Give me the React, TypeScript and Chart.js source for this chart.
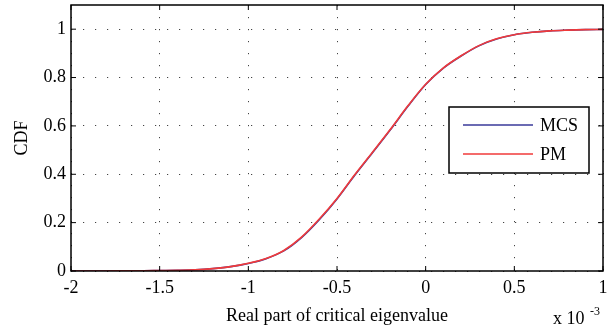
import React, { useEffect, useRef } from "react";
import { Chart, registerables } from "chart.js";

Chart.register(...registerables);

// Real part of critical eigenvalue (x 10^-3)
const xValues = [
  -2.0, -1.9, -1.8, -1.7, -1.6, -1.5, -1.4, -1.3, -1.2, -1.1, -1.0, -0.9, -0.8, -0.7, -0.6,
  -0.5, -0.4, -0.3, -0.2, -0.1, 0.0, 0.1, 0.2, 0.3, 0.4, 0.5, 0.6, 0.7, 0.8, 0.9, 1.0,
];
const mcsCdf = [
  0.0, 0.0, 0.0, 0.001, 0.001, 0.002, 0.003, 0.005, 0.01, 0.018, 0.031, 0.051, 0.083, 0.138, 0.212,
  0.298, 0.396, 0.489, 0.583, 0.681, 0.771, 0.839, 0.889, 0.931, 0.959, 0.977, 0.987, 0.993, 0.996, 0.998, 0.999,
];
const pmCdf = [
  0.0, 0.0, 0.0, 0.001, 0.001, 0.002, 0.003, 0.005, 0.01, 0.018, 0.032, 0.052, 0.085, 0.14, 0.215,
  0.3, 0.398, 0.491, 0.585, 0.683, 0.772, 0.84, 0.89, 0.932, 0.96, 0.977, 0.987, 0.993, 0.996, 0.998, 0.999,
];
const xTicks = [-2, -1.5, -1, -0.5, 0, 0.5, 1];
const yTicks = [0, 0.2, 0.4, 0.6, 0.8, 1];
const seriesNames = ["MCS", "PM"];
const seriesColors = ["#3a3a9a", "#f03a3a"];

const FONT = "'Liberation Serif', 'Times New Roman', serif";
const FS = 18;

const framePlugin = {
  id: "frame",
  afterDraw(chart: any) {
    const { ctx, chartArea: a, scales } = chart;
    ctx.save();
    ctx.strokeStyle = "#000";
    ctx.lineWidth = 1.5;
    ctx.strokeRect(a.left, a.top, a.right - a.left, a.bottom - a.top);
    ctx.lineWidth = 1;
    const tl = 5;
    xTicks.forEach((v) => {
      const px = scales.x.getPixelForValue(v);
      ctx.beginPath();
      ctx.moveTo(px, a.bottom);
      ctx.lineTo(px, a.bottom - tl);
      ctx.moveTo(px, a.top);
      ctx.lineTo(px, a.top + tl);
      ctx.stroke();
    });
    yTicks.forEach((v) => {
      const py = scales.y.getPixelForValue(v);
      ctx.beginPath();
      ctx.moveTo(a.left, py);
      ctx.lineTo(a.left + tl, py);
      ctx.moveTo(a.right, py);
      ctx.lineTo(a.right - tl, py);
      ctx.stroke();
    });
    // legend
    const lx = 449, ly = 107, lw = 140, lh = 66;
    ctx.fillStyle = "#fff";
    ctx.fillRect(lx, ly, lw, lh);
    ctx.strokeStyle = "#000";
    ctx.lineWidth = 1.5;
    ctx.strokeRect(lx, ly, lw, lh);
    ctx.font = `${FS}px ${FONT}`;
    ctx.textBaseline = "middle";
    ctx.textAlign = "left";
    chart.data.datasets.forEach((ds: any, i: number) => {
      const y = ly + 18 + i * 29;
      ctx.strokeStyle = ds.borderColor;
      ctx.lineWidth = 1.5;
      ctx.beginPath();
      ctx.moveTo(463, y);
      ctx.lineTo(533, y);
      ctx.stroke();
      ctx.fillStyle = "#000";
      ctx.fillText(ds.label, 540, y + 1);
    });
    // exponent label
    ctx.fillStyle = "#000";
    ctx.textBaseline = "alphabetic";
    ctx.font = `${FS}px ${FONT}`;
    ctx.fillText("x 10", 553, 324);
    ctx.font = `12px ${FONT}`;
    ctx.fillText("-3", 590, 315);
    ctx.restore();
  },
};

export default function App() {
  const ref = useRef<HTMLCanvasElement | null>(null);
  useEffect(() => {
    if (!ref.current) return;
    const chart = new Chart(ref.current, {
      type: "line",
      data: {
        datasets: [mcsCdf, pmCdf].map((arr, i) => ({
          label: seriesNames[i],
          data: xValues.map((x, j) => ({ x, y: arr[j] })),
          borderColor: seriesColors[i],
          borderWidth: 1.6,
          pointRadius: 0,
          cubicInterpolationMode: "monotone" as const,
          fill: false,
          order: i === 1 ? 0 : 1,
        })),
      },
      options: {
        animation: false,
        responsive: false,
        layout: { padding: { left: 0, top: 5, right: 7, bottom: 0 } },
        plugins: { legend: { display: false }, tooltip: { enabled: false } },
        scales: {
          x: {
            type: "linear",
            min: -2,
            max: 1,
            afterBuildTicks: (s: any) => {
              s.ticks = xTicks.map((v) => ({ value: v }));
            },
            afterFit: (s: any) => {
              s.height = 59;
              s.paddingLeft = 0;
              s.paddingRight = 0;
            },
            ticks: {
              font: { family: FONT, size: FS },
              color: "#000",
              padding: 6,
              maxRotation: 0,
              callback: (v: any) => String(v),
            },
            grid: { color: "#444", lineWidth: 1, drawTicks: false },
            border: { display: false, dash: [1.2, 10.8] },
            title: {
              display: true,
              text: "Real part of critical eigenvalue",
              font: { family: FONT, size: FS },
              color: "#000",
              padding: { top: 0, bottom: 3 },
            },
          },
          y: {
            min: 0,
            max: 1.1,
            afterBuildTicks: (s: any) => {
              s.ticks = yTicks.map((v) => ({ value: v }));
            },
            afterFit: (s: any) => {
              s.width = 71;
              s.paddingTop = 0;
              s.paddingBottom = 0;
            },
            ticks: {
              font: { family: FONT, size: FS },
              color: "#000",
              padding: 5,
              callback: (v: any) => String(v),
            },
            grid: { color: "#444", lineWidth: 1, drawTicks: false },
            border: { display: false, dash: [1.2, 10.8] },
            title: {
              display: true,
              text: "CDF",
              font: { family: FONT, size: FS },
              color: "#000",
              padding: { top: 11, bottom: 0 },
            },
          },
        },
      },
      plugins: [framePlugin],
    });
    return () => chart.destroy();
  }, []);
  return (
    <div style={{ position: "absolute", left: 0, top: 0, width: 610, height: 330, background: "#fff" }}>
      <canvas ref={ref} width={610} height={330} style={{ width: 610, height: 330 }} />
    </div>
  );
}
